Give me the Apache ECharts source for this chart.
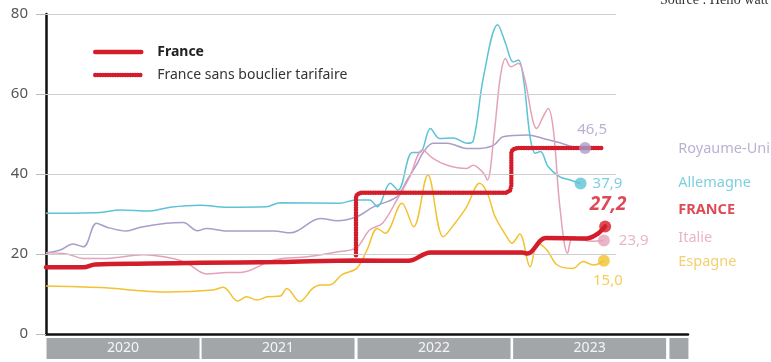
<!DOCTYPE html>
<html><head><meta charset="utf-8">
<script src="https://cdn.jsdelivr.net/npm/echarts@6/dist/echarts.min.js"></script>
<style>html,body{margin:0;padding:0;background:#fff}#c{width:771px;height:362px}</style>
</head><body><div id="c"></div>
<script>
// x values are months since Jan 2020
const years = ['2020', '2021', '2022', '2023', ''];
const yearCenters = [5.95, 17.93, 29.98, 42, 48.9];
const yTicks = [0, 20, 40, 60, 80];

const france = [[0,16.7],[2.9,16.7],[3.8,17.4],[8,17.6],[12,17.8],[18,18],[24,18.4],[28,18.3],[29.7,20.4],[36.8,20.4],[37.2,20.1],[38.6,24],[41.8,23.9],[42.6,25],[43.2,26.9]];
const franceSansBouclier = [[23.95,19.7],[23.95,34.3],[24.05,34.95],[24.35,35.3],[35.55,35.3],[35.85,35.9],[35.95,37],[35.95,45.3],[36.05,46.1],[36.4,46.5],[43.0,46.5]];
const allemagne = [[0,30.2],[4.2,30.4],[5.7,31],[8,30.75],[9.6,31.7],[11.9,32.2],[14,31.7],[17,31.8],[18.1,32.8],[22.7,32.7],[23.9,33.5],[25,33.5],[25.6,31.8],[26.6,37.7],[27.2,36],[28.3,45.4],[28.9,45.4],[29.7,51.4],[30.4,48.9],[31.5,49],[32.5,47.7],[33.0,48.2],[33.8,64.3],[34.9,77.3],[35.5,72.7],[36.1,68],[36.5,68.5],[36.9,63.5],[37.4,49.3],[37.8,45.2],[38.2,45.6],[38.8,41.8],[39.7,39.3],[40.5,38.5],[41.3,37.6]];
const royaumeUni = [[0,20.3],[1.1,21],[2.1,22.5],[2.9,21.8],[3.9,27.7],[4.7,26.7],[6.2,25.75],[7.3,26.7],[9.3,27.7],[10.6,27.9],[11.7,25.8],[12.4,26.4],[14,25.75],[17.6,25.75],[18.9,25.3],[21.2,28.9],[22.5,28.3],[24,29.3],[25.3,31.8],[27.1,34.3],[27.9,38.5],[28.7,42.7],[29.1,45.2],[29.9,47.7],[31,47.7],[32.5,46.4],[33.5,46.4],[34.6,47.2],[35.3,49.3],[37.2,49.75],[38.4,48.9],[39.7,47.8],[40.7,46.8],[41.65,46.5]];
const italie = [[0,20.3],[1.6,20],[2.9,18.9],[4.7,18.9],[7.5,19.8],[9.8,18.9],[10.9,17.7],[12.4,15],[14,15.4],[15,15.4],[17.6,18.5],[20.2,19.3],[22.7,20.6],[24,21.6],[25,26],[26,27.7],[27.1,33.5],[28.1,39.3],[29.1,46],[29.9,43.9],[31,42.2],[32.5,41.4],[33,42.2],[33.8,40.2],[34.1,38.5],[34.6,49.3],[35.1,64.3],[35.5,68.9],[35.9,66.8],[36.5,67.7],[37,63.5],[37.6,53.5],[37.9,51.4],[38.4,54.3],[38.8,56.4],[39.2,51],[39.7,31.8],[40.3,20.2],[40.7,24.3],[41.5,23.5],[42.3,23.2],[43.1,23.4]];
const espagne = [[0,12],[4.2,11.6],[9.4,10.5],[12.9,11],[13.7,11.7],[14.8,8.25],[15.5,9.3],[16.3,8.5],[17.1,9.3],[18.1,9.5],[18.6,11.4],[19.6,8.1],[20.6,11.4],[21.2,12.25],[21.9,12.25],[22.9,14.9],[24,16.4],[24.8,21],[25.6,26.4],[26.2,25.2],[27.5,32.7],[28.4,26.8],[29.5,39.75],[30.7,24.3],[31.6,27.7],[32.5,31.8],[33.5,37.7],[34.1,35.2],[34.7,29.3],[35.6,24.3],[36,22.7],[36.6,25],[37.4,16.8],[38,22.7],[38.7,21],[39.5,17.25],[40.7,16.4],[41.5,18.1],[42.3,17.25],[43.1,18.3]];

const endLabels = ['46,5', '37,9', '27,2', '23,9', '15,0'];
const countryNames = ['Royaume-Uni', 'Allemagne', 'FRANCE', 'Italie', 'Espagne'];
const countryNameY = [46.25, 37.75, 31, 24, 18];
const gridLineValues = [20, 40, 60, 80];

const C = {uk:'#ab9cc8', de:'#5cc3d6', fr:'#d41d2a', it:'#e3a2b9', es:'#f2c230'};
const FONT = 'Noto Sans';
const XMAX = 49.6, GRIDEND = 44.05, NAMEX = 48.85;

const chart = echarts.init(document.getElementById('c'));

function thin(name, data, color) {
  return {name, type:'line', data, smooth:0.35, symbol:'none', z:3,
    lineStyle:{color, width:1.5}, itemStyle:{color}};
}

const endPts = [
  {value: royaumeUni[royaumeUni.length-1], color:C.uk, pos:'top', off:[7,-1], dist:4},
  {value: allemagne[allemagne.length-1], color:C.de, pos:'right', off:[0,0], dist:6},
  {value: france[france.length-1], color:C.fr, pos:'top', off:[3,-1], dist:5, bold:true},
  {value: italie[italie.length-1], color:C.it, pos:'right', off:[0,0], dist:9},
  {value: espagne[espagne.length-1], color:C.es, pos:'bottom', off:[4,0], dist:6}
];

chart.setOption({
  animation:false,
  title:{text:'Source : Hello watt', left:655, top:-12,
    textStyle:{fontFamily:'Liberation Serif', fontSize:14, fontWeight:'normal', color:'#333'}},
  legend:{
    data:['France','France sans bouclier tarifaire'],
    orient:'vertical', left:93, top:45, padding:0, itemWidth:46, itemHeight:14, itemGap:9,
    itemStyle:{color:'rgba(0,0,0,0)', borderWidth:0, opacity:0},
    lineStyle:{width:4.5},
    formatter: n => n === 'France' ? '{b|' + n + '}' : '{n|' + n + '}',
    textStyle:{fontFamily:FONT, fontSize:14, color:'#333', padding:[0,0,0,11],
      rich:{b:{fontFamily:FONT, fontSize:14, fontWeight:'bold', color:'#222'}, n:{fontFamily:FONT, fontSize:14, color:'#333'}}}
  },
  grid:{left:46, right:83, top:14, bottom:28},
  xAxis:[{
    type:'value', min:0, max:XMAX,
    axisLine:{show:true, onZero:false, lineStyle:{color:'#111', width:2.5}},
    axisTick:{show:false}, axisLabel:{show:false}, splitLine:{show:false}
  },{
    type:'value', min:0, max:XMAX, position:'bottom',
    axisLine:{show:false}, axisTick:{show:false}, splitLine:{show:false},
    axisLabel:{show:true, customValues:yearCenters, margin:4,
      formatter: v => { const i = yearCenters.indexOf(v); return years[i] ? '{y|' + years[i] + '}' : '{e| }'; },
      rich:{
        y:{width:153, height:21, lineHeight:21, align:'center', backgroundColor:'#a3a6a9', color:'#f5f5f5', fontFamily:FONT, fontSize:14},
        e:{width:19, height:21, lineHeight:21, align:'center', backgroundColor:'#a3a6a9', color:'#f5f5f5', fontSize:14}
      }}
  }],
  yAxis:{
    type:'value', min:0, max:80, interval:20,
    axisLine:{show:true, lineStyle:{color:'#111', width:2.5}},
    axisTick:{show:true, length:10, lineStyle:{color:'#bbb', width:1}},
    axisLabel:{margin:18, color:'#555', fontFamily:FONT, fontSize:15},
    splitLine:{show:false}
  },
  series:[
    {name:'grid', type:'line', data:[], silent:true, z:1,
      markLine:{silent:true, symbol:'none', label:{show:false},
        lineStyle:{color:'#cfcfcf', width:1, type:'solid'},
        data: gridLineValues.map(v => [{coord:[0,v]},{coord:[GRIDEND,v]}])}},
    thin('Royaume-Uni', royaumeUni, C.uk),
    thin('Allemagne', allemagne, C.de),
    thin('Italie', italie, C.it),
    thin('Espagne', espagne, C.es),
    {name:'France sans bouclier tarifaire', type:'line', data:franceSansBouclier, smooth:false, symbol:'none', z:4,
      lineStyle:{color:C.fr, width:4.5, type:[0.1,2.4], cap:'round', join:'round'}, itemStyle:{color:C.fr}},
    {name:'France', type:'line', data:france, smooth:0.35, symbol:'none', z:5,
      lineStyle:{color:C.fr, width:4.5, cap:'round'}, itemStyle:{color:C.fr}},
    {name:'pts', type:'scatter', z:6, symbolSize:12,
      data: endPts.map((p, i) => ({value:p.value, itemStyle:{color:p.color},
        label:{show:true, formatter:endLabels[i], position:p.pos, distance:p.dist, offset:p.off,
          color:p.color, fontFamily:FONT, fontSize:p.bold?19:15, fontWeight:p.bold?'bold':'normal', fontStyle:p.bold?'italic':'normal'}}))},
    {name:'names', type:'scatter', z:6, symbolSize:0, silent:true,
      data: countryNames.map((n, i) => ({value:[NAMEX, countryNameY[i]],
        label:{show:true, formatter:n, position:'inside', align:'left',
          color:[C.uk, C.de, C.fr, C.it, '#efc44a'][i], fontFamily:FONT, fontSize:14.5,
          fontWeight: i === 2 ? 'bold' : 'normal'}}))}
  ]
});
</script></body></html>
